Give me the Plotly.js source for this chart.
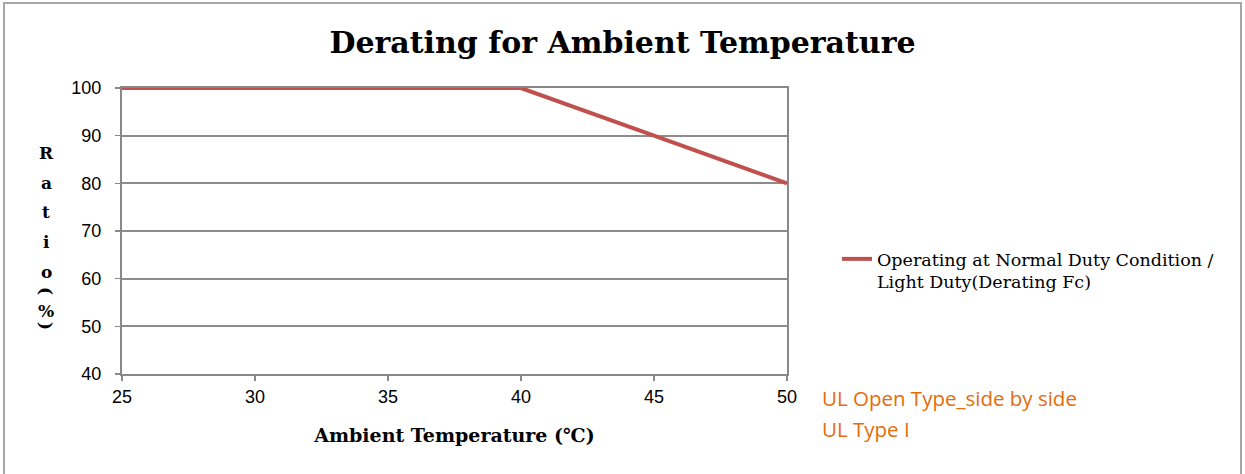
<!DOCTYPE html>
<html>
<head>
<meta charset="utf-8">
<script src="https://cdn.plot.ly/plotly-3.0.1.min.js"></script>
<style>
  html, body { margin: 0; padding: 0; background: #fff; }
  #wrap { position: relative; width: 1245px; height: 474px; overflow: hidden; }
  #chart { width: 1245px; height: 474px; }
  #frame { position: absolute; left: 3px; top: 2px; width: 1239px; height: 480px;
           border: 2px solid #a6a6a6; pointer-events: none; box-sizing: border-box; }
</style>
</head>
<body>
<div id="wrap">
  <div id="chart"></div>
  <div id="frame"></div>
</div>
<script>
// ---- data ----
const temperatures = [25, 30, 35, 40, 45, 50];
const ratioPercent = [100, 100, 100, 100, 90, 80];
const seriesName = 'Operating at Normal Duty Condition /<br>Light Duty(Derating Fc)';
const xTickValues = [25, 30, 35, 40, 45, 50];
const yTickValues = [40, 50, 60, 70, 80, 90, 100];
const chartTitle = 'Derating for Ambient Temperature';
const xTitle = 'Ambient Temperature (℃)';
const yTitleChars = ['R', 'a', 't', 'i', 'o', '(', '%', ')'];
const noteLines = ['UL Open Type_side by side', 'UL Type I'];

// ---- layout helpers ----
const L = 122, R = 787, T = 88, B = 374, W = 1245, H = 474;
const px2x = p => (p - L) / (R - L);
const py2y = p => (B - p) / (B - T);

const yCharPix = [153, 183, 212, 242, 272, 291, 311, 326];
const annotations = yTitleChars.map((c, i) => {
  const paren = (c === '(' || c === ')');
  return {
    text: '<b>' + c + '</b>',
    xref: 'paper', yref: 'paper',
    x: px2x(46), y: py2y(yCharPix[i]),
    xanchor: 'center', yanchor: 'middle',
    showarrow: false,
    textangle: paren ? 90 : 0,
    font: { family: 'DejaVu Serif', size: 17, color: '#000' }
  };
});
const notePix = [398, 429];
noteLines.forEach((t, i) => annotations.push({
  text: t,
  xref: 'paper', yref: 'paper',
  x: px2x(820), y: py2y(notePix[i]),
  xanchor: 'left', yanchor: 'middle', align: 'left',
  showarrow: false,
  font: { family: 'Open Sans', size: 20.5, color: '#E46C0A' }
}));

const trace = {
  x: temperatures, y: ratioPercent,
  type: 'scatter', mode: 'lines',
  name: seriesName,
  line: { color: '#C0504D', width: 4 },
  showlegend: true
};

const layout = {
  width: W, height: H,
  margin: { l: L, r: W - R, t: T, b: H - B, pad: 0 },
  paper_bgcolor: '#fff', plot_bgcolor: '#fff',
  title: {
    text: '<b>' + chartTitle + '</b>',
    x: 0.5, xref: 'container', xanchor: 'center',
    y: 1 - 42 / H, yref: 'container', yanchor: 'middle',
    font: { family: 'DejaVu Serif', size: 30, color: '#000' }
  },
  xaxis: {
    range: [25, 50], tickvals: xTickValues,
    showgrid: false, zeroline: false,
    showline: true, mirror: true, linecolor: '#898989', linewidth: 2,
    ticks: 'outside', ticklen: 5, tickcolor: '#898989', tickwidth: 1.5,
    tickfont: { family: 'Liberation Sans', size: 18, color: '#000' },
    title: { text: '<b>' + xTitle + '</b>', standoff: 23,
             font: { family: 'DejaVu Serif', size: 19, color: '#000' } },
    fixedrange: true
  },
  yaxis: {
    range: [40, 100], tickvals: yTickValues,
    showgrid: true, gridcolor: '#8c8c8c', gridwidth: 2,
    zeroline: false,
    showline: true, mirror: true, linecolor: '#898989', linewidth: 2,
    ticks: 'outside', ticklen: 5, tickcolor: '#898989', tickwidth: 1.5,
    ticklabelstandoff: 10,
    tickfont: { family: 'Liberation Sans', size: 18, color: '#000' },
    fixedrange: true
  },
  legend: {
    x: px2x(837), y: py2y(241), xanchor: 'left', yanchor: 'top',
    valign: 'top',
    font: { family: 'DejaVu Serif', size: 17.5, color: '#000' },
    bgcolor: 'rgba(0,0,0,0)'
  },
  annotations: annotations
};

Plotly.newPlot('chart', [trace], layout, { displayModeBar: false, staticPlot: true });
</script>
</body>
</html>
